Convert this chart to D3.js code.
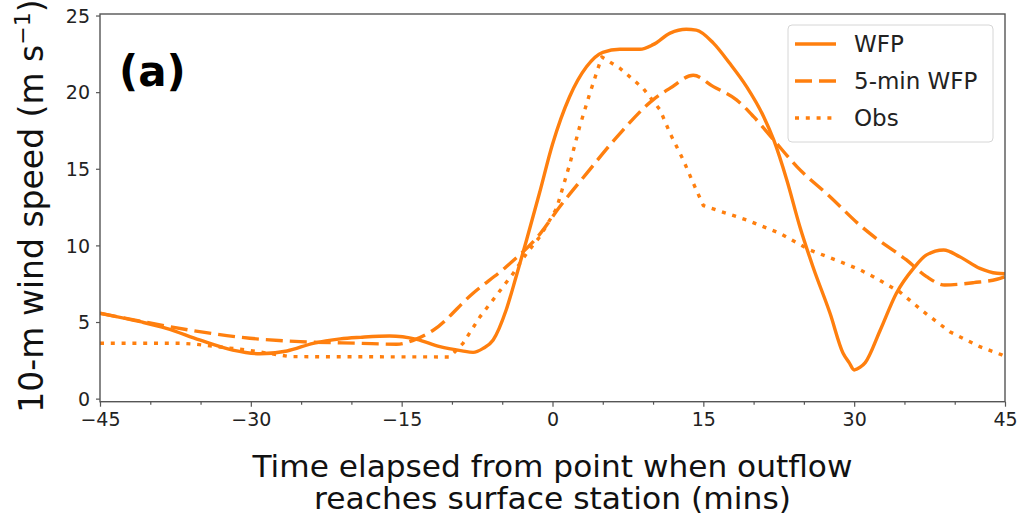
<!DOCTYPE html>
<html><head><meta charset="utf-8">
<script src="https://cdn.jsdelivr.net/npm/d3@7"></script>
<style>body{margin:0;background:#fff} svg{display:block}</style>
</head><body><svg id="c" width="1020" height="521"></svg>
<script>
// ---- data ----
const wfpTime  = [-45,-41,-38.4,-35.1,-31.8,-29.1,-26.4,-23.8,-21.1,-19.1,-16.2,-13.5,-11.2,-9,-7.9,-6.9,-5.9,-4.6,-3.6,-2.6,-1.3,0,1.7,3.4,5,6.7,8.7,10,11.7,13.3,14.3,16,17.6,19.3,21,22,23.3,24.6,25.9,27.6,28.9,29.5,30,30.6,31.1,32.6,34.2,35.9,37.2,38.9,40.5,42.5,44.2,45];
const wfpSpeed = [5.57,5.02,4.59,3.83,3.17,2.93,3.11,3.61,3.9,4.0,4.09,3.87,3.39,3.12,3.02,3.28,3.83,5.8,8.0,10.3,13.4,16.6,19.7,21.67,22.6,22.8,22.8,23.1,23.85,24.1,24.05,23.2,21.9,20.36,18.4,16.88,14.27,11.22,8.61,5.57,2.96,2.35,1.87,2.05,2.35,4.48,6.88,8.5,9.38,9.7,9.26,8.5,8.18,8.15];

const wfp5Time  = [-45,-40.7,-35.1,-30.1,-25.1,-19.1,-15.5,-13.5,-11.9,-7.9,-4.6,-1.3,0.7,3.4,6.7,10,11.7,14,16,18.3,20,22,24.3,27.6,30.6,31.9,35.2,37.2,39,41.9,44.2,45];
const wfp5Speed = [5.57,5.02,4.37,3.94,3.72,3.61,3.55,3.9,4.45,6.88,8.61,10.7,12.5,14.7,17.3,19.5,20.26,21.1,20.36,19.5,18.4,16.88,15.14,13.18,11.3,10.6,9.05,7.96,7.42,7.57,7.79,7.96];

const obsTime  = [-45,-37,-35.5,-30.4,-26.1,-10.2,-8.9,-7.2,-5.55,-3.9,-2.57,-1.25,0.4,1.74,2.7,3.7,4.9,6.7,9,10.7,11.7,13,14,15,16.3,19.3,22.6,25.6,28.6,30.6,31.9,34.5,36.9,39.5,42.5,44.7,45];
const obsSpeed = [3.61,3.61,3.55,3.17,2.74,2.72,3.61,5.35,6.76,8.18,9.49,10.57,12.4,15.36,17.75,19.9,22.3,21.56,20.26,18.84,17.3,15.58,14.06,12.6,12.31,11.66,10.79,9.7,8.94,8.4,7.96,6.98,5.67,4.37,3.39,2.85,2.75];

const xTicks = [-45,-30,-15,0,15,30,45];
const xMinorTicks = [-40,-35,-25,-20,-10,-5,5,10,20,25,35,40];
const yTicks = [0,5,10,15,20,25];
const seriesLabels = ["WFP","5-min WFP","Obs"];

// ---- layout ----
const svg = d3.select("#c");
const L = 100, R = 1005, T = 14, B = 401.7;
const x = d3.scaleLinear().domain([-45,45]).range([L,R]);
const y = d3.scaleLinear().domain([-0.2,25.1]).range([B,T]);
const color = "#ff7f0e";
const font = "DejaVu Sans, sans-serif";
const fmt = d => d < 0 ? "\u2212" + Math.abs(d) : String(d);

const styles = [
  {dash: null, curve: d3.curveMonotoneX},
  {dash: "17,7", curve: d3.curveMonotoneX},
  {dash: "4,6.8", curve: d3.curveLinear}
];
const series = [
  wfpTime.map((t,i)=>[t,wfpSpeed[i]]),
  wfp5Time.map((t,i)=>[t,wfp5Speed[i]]),
  obsTime.map((t,i)=>[t,obsSpeed[i]])
];

svg.append("defs").append("clipPath").attr("id","clip")
  .append("rect").attr("x",L).attr("y",T).attr("width",R-L).attr("height",B-T);

const g = svg.append("g").attr("clip-path","url(#clip)");
series.forEach((s,i)=>{
  const line = d3.line().x(d=>x(d[0])).y(d=>y(d[1])).curve(styles[i].curve);
  g.append("path").datum(s).attr("d",line)
    .attr("fill","none").attr("stroke",color).attr("stroke-width",3.4)
    .attr("stroke-dasharray",styles[i].dash)
    .attr("stroke-linejoin","round");
});

// axes
const xAxis = svg.append("g").attr("transform",`translate(0,${B})`)
  .call(d3.axisBottom(x).tickValues(xTicks).tickFormat(fmt).tickSize(5).tickPadding(5));
svg.append("g").attr("transform",`translate(0,${B})`)
  .call(d3.axisBottom(x).tickValues(xMinorTicks).tickFormat("").tickSize(3))
  .select(".domain").remove();
const yAxis = svg.append("g").attr("transform",`translate(${L},0)`)
  .call(d3.axisLeft(y).tickValues(yTicks).tickFormat(fmt).tickSize(4).tickPadding(6));
svg.selectAll(".tick line").attr("stroke","#555").attr("stroke-width",1.2);
svg.selectAll(".domain").remove();
svg.selectAll(".tick text").attr("font-family",font).attr("font-size",19).attr("fill","#222");
xAxis.selectAll(".tick text").attr("dy","0.75em");
yAxis.selectAll(".tick text").attr("dy","0.36em");

svg.append("rect").attr("x",L).attr("y",T).attr("width",R-L).attr("height",B-T)
  .attr("fill","none").attr("stroke","#555").attr("stroke-width",1.4);

// axis titles
svg.append("text").attr("x",(L+R)/2).attr("y",477).attr("text-anchor","middle")
  .attr("font-family",font).attr("font-size",30).attr("fill","#111")
  .attr("textLength",600).attr("lengthAdjust","spacingAndGlyphs")
  .text("Time elapsed from point when outflow");
svg.append("text").attr("x",(L+R)/2).attr("y",509).attr("text-anchor","middle")
  .attr("font-family",font).attr("font-size",30).attr("fill","#111")
  .attr("textLength",477).attr("lengthAdjust","spacingAndGlyphs")
  .text("reaches surface station (mins)");

const yl = svg.append("text").attr("transform","translate(43,206) rotate(-90)")
  .attr("text-anchor","middle").attr("font-family",font).attr("font-size",33).attr("fill","#111");
yl.append("tspan").text("10-m wind speed (m s");
yl.append("tspan").attr("font-size",22).attr("dy",-13).text("\u22121");
yl.append("tspan").attr("dy",13).text(")");

// panel label
svg.append("text").attr("x",119).attr("y",86).attr("font-family",font)
  .attr("font-weight","bold").attr("font-size",42).attr("fill","#000").text("(a)");

// legend
const lg = svg.append("g");
lg.append("rect").attr("x",788).attr("y",25).attr("width",205).attr("height",117)
  .attr("rx",4).attr("fill","#fff").attr("fill-opacity",0.8)
  .attr("stroke","#d6d6d6").attr("stroke-width",1);
seriesLabels.forEach((lab,i)=>{
  const yy = 44 + i*37;
  lg.append("line").attr("x1",795).attr("x2",836).attr("y1",yy).attr("y2",yy)
    .attr("stroke",color).attr("stroke-width",3.4).attr("stroke-dasharray",styles[i].dash);
  lg.append("text").attr("x",854).attr("y",yy).attr("dy","0.36em")
    .attr("font-family",font).attr("font-size",23).attr("fill","#222").text(lab);
});
</script></body></html>
